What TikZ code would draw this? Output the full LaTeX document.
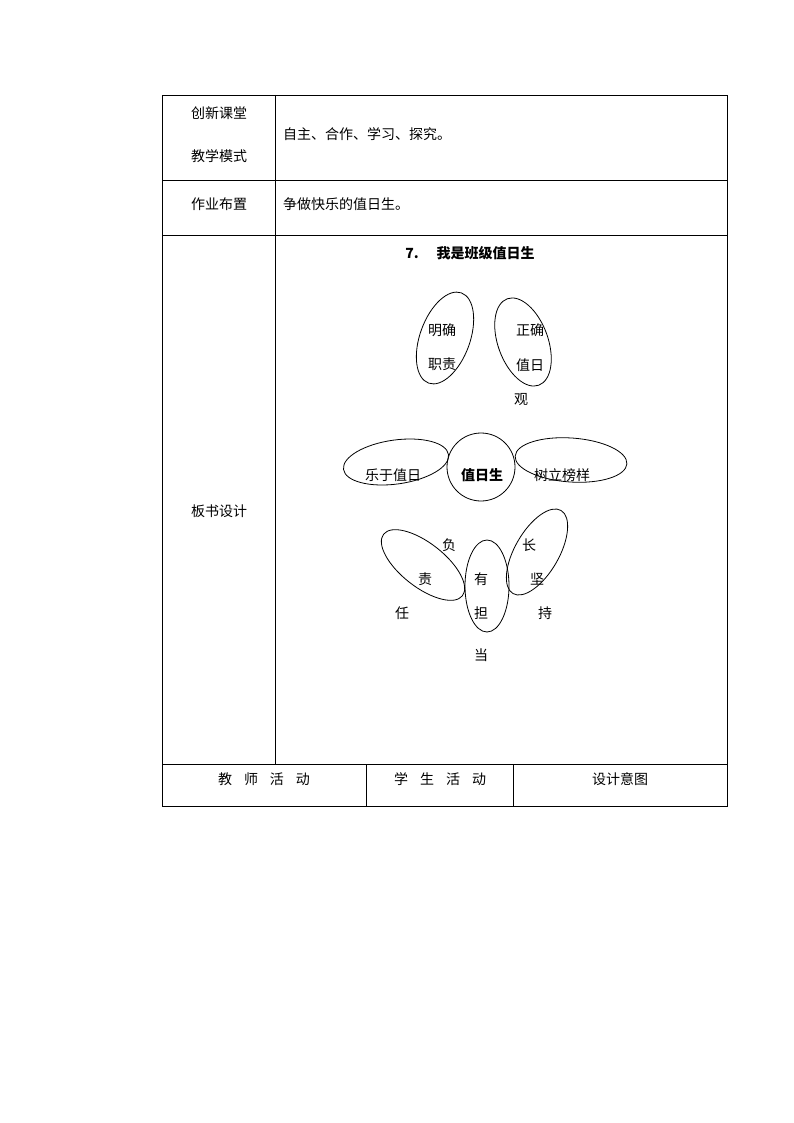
\documentclass[tikz,border=0pt]{standalone}
\usepackage{fontspec}
\newfontfamily\cjk{Noto Sans CJK SC}
\begin{document}
\begin{tikzpicture}[x=1pt,y=-1pt,font=\cjk\fontsize{14}{16}\selectfont,
  t/.style={inner sep=0pt,anchor=center},
  tl/.style={inner sep=0pt,anchor=west},
  pet/.style={draw,thick,line width=0.8pt}]
\useasboundingbox (0,0) rectangle (794,1123);
\draw[line width=0.7pt] (162,95) rectangle (727,806);
\foreach \y in {180,235,764} \draw[line width=0.7pt] (162,\y) -- (727,\y);
\draw[line width=0.7pt] (275,95) -- (275,764);
\draw[line width=0.7pt] (366,764) -- (366,806) (513,764) -- (513,806);
\node[t] (a1) at (219,113) {创新课堂};
\node[t] (a2) at (219,156) {教学模式};
\node[tl] (a3) at (283,134) {自主、合作、学习、探究。};
\node[t] (b1) at (219,204) {作业布置};
\node[tl] (b2) at (283,204) {争做快乐的值日生。};
\node[t] (c1) at (219,511) {板书设计};
\node[t] (title) at (470,253) {\textbf{7.}\hspace{18pt}\textbf{我是班级值日生}};
\node[t] (d1) at (264,779) {教\hspace{12pt}师\hspace{12pt}活\hspace{12pt}动};
\node[t] (d2) at (440,779) {学\hspace{12pt}生\hspace{12pt}活\hspace{12pt}动};
\node[t] (d3) at (620,779) {设计意图};
% petals
\draw[pet] (445,338) ellipse[x radius=25,y radius=48,rotate=-20];
\draw[pet] (523,342) ellipse[x radius=25,y radius=46,rotate=20];
\draw[pet] (481,467) circle (34);
\draw[pet] (396,462) ellipse[x radius=53,y radius=22,rotate=8];
\draw[pet] (571,460) ellipse[x radius=56,y radius=22,rotate=-4];
\draw[pet] (423,565) ellipse[x radius=50,y radius=22,rotate=-38];
\draw[pet] (487,586) ellipse[x radius=22,y radius=46];
\draw[pet] (537,552) ellipse[x radius=22,y radius=48,rotate=-30];
\node[t] (p1) at (442,330) {明确};
\node[t] (p2) at (442,364) {职责};
\node[t] (q1) at (530,330) {正确};
\node[t] (q2) at (530,365) {值日};
\node[t] (q3) at (521,400) {观};
\node[t] (c) at (482,475) {\textbf{值日生}};
\node[t] (l) at (393,475) {乐于值日};
\node[t] (r) at (562,475) {树立榜样};
\node[t] (f1) at (449,545) {负};
\node[t] (f2) at (425,579) {责};
\node[t] (f3) at (402,613) {任};
\node[t] (h1) at (481,579) {有};
\node[t] (h2) at (481,613) {担};
\node[t] (h3) at (481,655) {当};
\node[t] (g1) at (529,545) {长};
\node[t] (g2) at (537,579) {坚};
\node[t] (g3) at (545,613) {持};
\end{tikzpicture}
\end{document}
